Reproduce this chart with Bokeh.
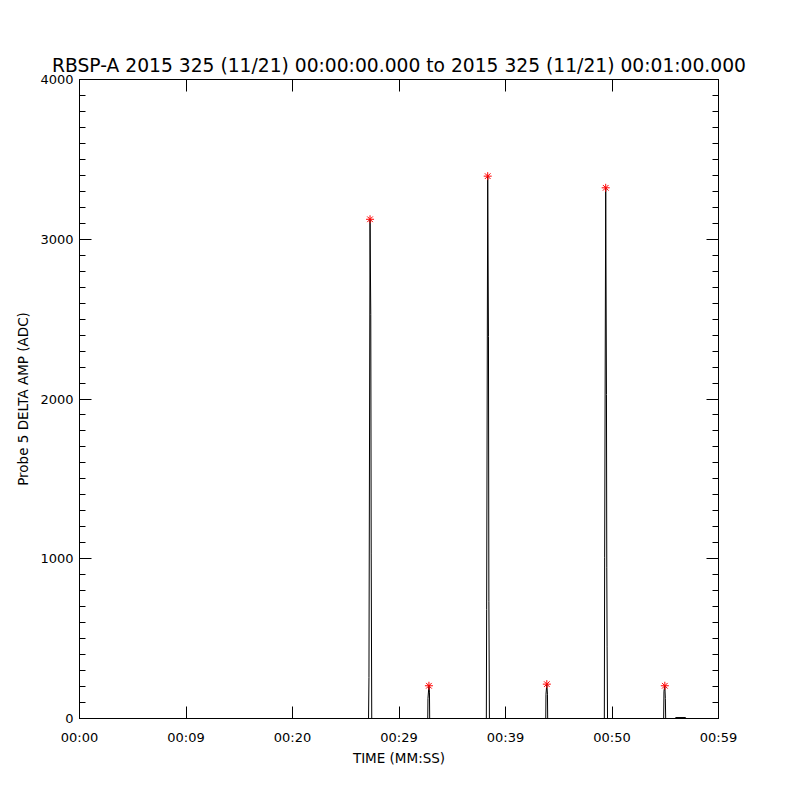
from bokeh.plotting import figure
from bokeh.models import Range1d, LinearAxis, FixedTicker, SingleIntervalTicker
from bokeh.embed import file_html
from bokeh.resources import INLINE

# ---- data (seconds from 00:00:00, ADC amplitude) ----
time_s = [0.0,
          27.14, 27.18, 27.28, 27.35, 27.39, 27.44,
          32.70, 32.72, 32.81, 32.86, 32.88,
          38.20, 38.23, 38.33, 38.40, 38.44, 38.49,
          43.78, 43.80, 43.88, 43.94, 43.96,
          49.28, 49.31, 49.41, 49.48, 49.51, 49.54, 49.58,
          54.85, 54.88, 54.96, 55.01, 55.04,
          55.90, 56.00, 56.90, 57.00,
          59.95]
amp_adc = [0,
           0, 257, 3125, 2530, 1030, 0,
           0, 125, 205, 165, 0,
           0, 682, 3395, 2390, 734, 0,
           0, 152, 215, 152, 0,
           0, 1006, 3322, 2028, 943, 453, 0,
           0, 171, 205, 125, 0,
           0, 6, 6, 0,
           0]

peak_time_s = [27.28, 32.81, 38.33, 43.88, 49.41, 54.96]
peak_amp_adc = [3125, 205, 3395, 215, 3322, 205]

x_tick_pos = [0, 10, 20, 30, 40, 50, 60]
x_tick_labels = ["00:00", "00:09", "00:20", "00:29", "00:39", "00:50", "00:59"]
y_tick_pos = [0, 1000, 2000, 3000, 4000]
y_major = 1000

FONT = "DejaVu Sans"

p = figure(width=791, height=791, output_backend="svg", toolbar_location=None,
           x_range=Range1d(0, 60), y_range=Range1d(0, 4000),
           min_border_left=79, min_border_right=73, min_border_top=79, min_border_bottom=73,
           title="RBSP-A 2015 325 (11/21) 00:00:00.000 to 2015 325 (11/21) 00:01:00.000")

p.grid.visible = False
p.outline_line_color = "black"
p.outline_line_width = 1
p.background_fill_color = "white"
p.border_fill_color = "white"

p.title.align = "center"
p.title.text_font = FONT
p.title.text_font_size = "18.7px"
p.title.text_font_style = "normal"
p.title.text_color = "black"
p.title.standoff = 8

xt = FixedTicker(ticks=x_tick_pos, minor_ticks=[])
yt = SingleIntervalTicker(interval=y_major, num_minor_ticks=10)

def style_axis(ax):
    ax.axis_line_color = "black"
    ax.major_tick_line_color = "black"
    ax.minor_tick_line_color = "black"
    ax.major_tick_in = 12
    ax.major_tick_out = 0
    ax.minor_tick_in = 6
    ax.minor_tick_out = 0
    ax.major_label_text_font = FONT
    ax.major_label_text_font_size = "13px"
    ax.major_label_text_color = "black"
    ax.axis_label_text_font = FONT
    ax.axis_label_text_font_size = "13.5px"
    ax.axis_label_text_font_style = "normal"
    ax.axis_label_text_color = "black"

p.xaxis.ticker = xt
p.xaxis.major_label_overrides = {t: l for t, l in zip(x_tick_pos, x_tick_labels)}
p.yaxis.ticker = yt
style_axis(p.xaxis[0])
style_axis(p.yaxis[0])
p.xaxis.axis_label = "TIME (MM:SS)"
p.yaxis.axis_label = "Probe 5 DELTA AMP (ADC)"
p.xaxis.major_label_standoff = 11
p.xaxis.axis_label_standoff = 2
p.yaxis.major_label_standoff = 6
p.yaxis.axis_label_standoff = 6
p.yaxis.major_label_orientation = "horizontal"

top = LinearAxis(ticker=xt)
style_axis(top)
top.major_label_overrides = {t: "" for t in x_tick_pos}
top.major_label_standoff = 0
p.add_layout(top, "above")
right = LinearAxis(ticker=yt)
style_axis(right)
right.major_label_overrides = {t: "" for t in y_tick_pos}
right.major_label_standoff = 0
p.add_layout(right, "right")

p.line(time_s, amp_adc, line_color="black", line_width=1)
p.scatter(peak_time_s, peak_amp_adc, marker="asterisk", size=8,
          line_color="red", line_width=1)

open("out.html", "w").write(file_html(p, INLINE))
